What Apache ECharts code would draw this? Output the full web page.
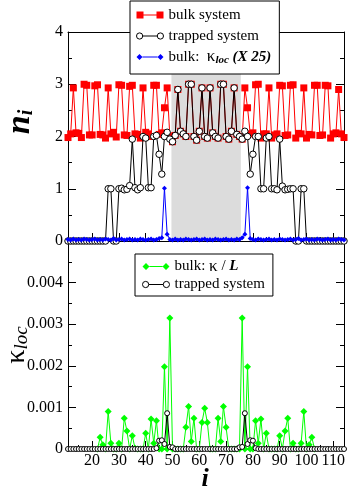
<!DOCTYPE html>
<html><head><meta charset="utf-8">
<script src="https://cdn.jsdelivr.net/npm/echarts@6/dist/echarts.min.js"></script>
<style>html,body{margin:0;padding:0;background:#fff}#c{width:349px;height:491px}</style>
</head><body><div id="c"></div>
<script>
// ---- data ----
const site = [11,12,13,14,15,16,17,18,19,20,21,22,23,24,25,26,27,28,29,30,31,32,33,34,35,36,37,38,39,40,41,42,43,44,45,46,47,48,49,50,51,52,53,54,55,56,57,58,59,60,61,62,63,64,65,66,67,68,69,70,71,72,73,74,75,76,77,78,79,80,81,82,83,84,85,86,87,88,89,90,91,92,93,94,95,96,97,98,99,100,101,102,103,104,105,106,107,108,109,110,111,112,113,114];
const bulkN = [1.98,2.05,2.93,2.07,2.06,1.98,3.0,2.98,2.03,2.03,
 2.97,2.99,2.04,2.03,1.97,2.93,2.05,2.08,1.99,2.99,
 2.98,2.03,2.02,2.96,2.98,2.05,2.04,1.97,2.93,2.08,
 2.05,2.0,2.98,2.98,2.04,2.07,2.55,2.93,2.01,1.9,
 2.02,2.9,2.1,2.05,2.0,3.0,3.0,2.0,1.93,2.1,
 2.93,2.0,1.97,2.93,2.07,2.0,1.97,3.0,3.0,2.0,
 1.95,2.1,2.93,2.04,2.0,1.95,2.93,2.55,2.05,2.07,
 2.99,3.0,1.97,2.05,2.05,2.93,1.97,2.03,2.05,2.98,
 2.97,2.02,2.03,2.98,2.99,1.97,2.06,2.05,2.93,1.97,
 2.04,2.03,2.98,2.98,2.02,2.03,2.98,2.97,1.97,2.05,
 2.07,2.9,2.05,1.98];
const trappedN = [0,0,0,0,0,0,0,0,0,0,
 0,0,0,0,0,1.0,1.0,0,0,1.0,
 1.01,0.98,0.99,1.06,1.95,1.02,0.98,1.02,2.0,1.97,
 1.02,1.02,2.0,2.02,1.66,1.28,2.0,2.08,1.95,1.9,
 2.02,2.9,2.1,2.05,2.0,3.0,3.0,2.0,1.93,2.1,
 2.93,2.0,1.97,2.93,2.07,2.0,1.97,3.0,3.0,2.0,
 1.95,2.1,2.93,2.04,2.0,1.95,2.1,2.0,1.28,1.66,
 2.0,2.0,1.0,1.0,1.97,2.0,1.0,1.0,0.98,1.95,
 1.05,0.98,0.99,1.0,1.0,0,0,1.0,1.0,0,
 0,0,0,0,0,0,0,0,0,0,
 0,0,0,0];
const bulkKloc25 = [0.03,0.02,0.04,0.02,0.03,0.02,0.04,0.03,0.02,0.03,
 0.04,0.02,0.03,0.02,0.04,0.03,0.02,0.05,0.02,0.03,
 0.04,0.02,0.03,0.04,0.02,0.03,0.02,0.04,0.03,0.02,
 0.03,0.04,0.02,0.03,0.05,0.06,1.01,0.13,0.03,0.02,
 0.04,0.02,0.03,0.02,0.04,0.03,0.02,0.03,0.04,0.02,
 0.03,0.04,0.02,0.03,0.02,0.04,0.03,0.02,0.03,0.04,
 0.02,0.03,0.02,0.04,0.03,0.06,0.13,1.02,0.05,0.03,
 0.02,0.04,0.03,0.02,0.03,0.04,0.02,0.03,0.02,0.04,
 0.03,0.02,0.03,0.04,0.02,0.03,0.05,0.02,0.03,0.04,
 0.02,0.03,0.02,0.04,0.03,0.02,0.03,0.04,0.02,0.03,
 0.02,0.04,0.03,0.02];
const bulkKL = [null,null,null,null,null,null,null,null,null,null,
 null,0,0.00028,0.0001,0,0.0009,0.00014,0,0,0.00014,
 0,0.00074,0.00043,0,0.00032,0.00002,0,0,0,0.00038,
 0,0.00072,0.00014,0.00068,0,0,0.00198,0,0.00315,0,
 0,0,0,0,0.00052,0.00102,0.00018,0.00074,0,0,
 0.00064,0.00098,0.00064,0,0,0,0.00074,0.00018,0.00102,0.00052,
 0,0,0,0,0,0.00315,0,0.00198,0,0,
 0.00068,0.00014,0.00072,0,0.00038,0,0,0,0,0.00032,
 0,0.00043,0.00074,0,0.00014,0,0,0.00014,0.0009,0,
 0.0001,0.00028,0,null,null,null,null,null,null,null,
 null,null,null,null];
const trappedK = [0,0,0,0,0,0,0,0,0,0,
 0,0,0,0,0,0,0,0,0,0,
 0,0,0,0,0,0,0,0,0,0,
 0,0,0,0.00002,0.0002,0.00021,0.00012,0.00086,0.00005,0.00004,
 0,0,0,0,0,0,0,0,0,0,
 0,0,0,0,0,0,0,0,0,0,
 0,0,0,0,0.00004,0.00005,0.00086,0.00012,0.00021,0.0002,
 0.00002,0,0,0,0,0,0,0,0,0,
 0,0,0,0,0,0,0,0,0,0,
 0,0,0,0,0,0,0,0,0,0,
 0,0,0,0];
const shadeRange = [49.6, 75.5];
const xMajor = [20,30,40,50,60,70,80,90,100,110];
const xMinor = [15,25,35,45,55,65,75,85,95,105];

// ---- chart ----
const FONT = '"Liberation Serif","Times New Roman",serif';
const XMIN = 11, XMAX = 114;
const pair = ys => site.map((x, k) => [x, ys[k]]);

function xAx(grid, pos, ticks, len, labels) {
  return {
    type: 'value', gridIndex: grid, position: pos, min: XMIN, max: XMAX,
    axisLine: {show: true, onZero: false, lineStyle: {color: '#000', width: 1}},
    axisTick: {show: true, inside: true, length: len, customValues: ticks, lineStyle: {color: '#000', width: 1}},
    axisLabel: labels ? {show: true, customValues: xMajor, margin: 4, fontFamily: FONT, fontSize: 16, color: '#000'} : {show: false},
    splitLine: {show: false}
  };
}
function yAx(grid, pos, min, max, iv, labels, fmt) {
  return {
    type: 'value', gridIndex: grid, position: pos, min: min, max: max, interval: iv,
    axisLine: {show: true, onZero: false, lineStyle: {color: '#000', width: 1}},
    axisTick: {show: true, inside: true, length: 8, lineStyle: {color: '#000', width: 1}},
    minorTick: {show: true, splitNumber: 2, length: 4, lineStyle: {color: '#000', width: 1}},
    axisLabel: labels ? {show: true, margin: 5, fontFamily: FONT, fontSize: 16, color: '#000', formatter: fmt} : {show: false},
    splitLine: {show: false}, minorSplitLine: {show: false}
  };
}

const iconSq = 'path://M0,0h7v7h-7zM20,0h7v7h-7zM7,3h13v1h-13z';
const iconCi = 'path://M0.5,3.5a3,3 0 1,0 6,0a3,3 0 1,0 -6,0zM20.5,3.5a3,3 0 1,0 6,0a3,3 0 1,0 -6,0zM6.5,3.5h14';
const iconDiS = 'path://M0,3.5l3,-3l3,3l-3,3zM21,3.5l3,-3l3,3l-3,3zM6,3h15v1h-15z';
const iconDiL = 'path://M0,3.5l3.5,-3.5l3.5,3.5l-3.5,3.5zM20,3.5l3.5,-3.5l3.5,3.5l-3.5,3.5zM7,3h13v1h-13z';

const richLeg = {
  k: {fontFamily: FONT, fontSize: 17, color: '#000'},
  s: {fontFamily: FONT, fontSize: 11, fontStyle: 'italic', fontWeight: 'bold', color: '#000', verticalAlign: 'bottom', lineHeight: 10},
  b: {fontFamily: FONT, fontSize: 15, fontStyle: 'italic', fontWeight: 'bold', color: '#000'}
};
const legText = {
  'bulk system': 'bulk system',
  'trapped system': 'trapped system',
  'bulk kloc': 'bulk:  {k|κ}{s|loc} {b|(X 25)}',
  'bulk k/L': 'bulk: {k|κ} / {b|L}',
  'trapped system (k)': 'trapped system'
};

const option = {
  animation: false,
  backgroundColor: '#fff',
  grid: [
    {left: 68, right: 5, top: 32, height: 209},
    {left: 68, right: 5, top: 241, height: 208}
  ],
  xAxis: [
    xAx(0, 'bottom', xMajor, 8, false),
    xAx(0, 'bottom', xMinor, 4, false),
    xAx(0, 'top', [], 0, false),
    xAx(1, 'bottom', xMajor, 8, true),
    xAx(1, 'bottom', xMinor, 4, false)
  ],
  yAxis: [
    yAx(0, 'left', 0, 4, 1, true, v => String(v)),
    yAx(0, 'right', 0, 4, 1, false),
    yAx(1, 'left', 0, 0.005, 0.001, true, v => v > 0.0045 ? '' : (v === 0 ? '0' : v.toFixed(3))),
    yAx(1, 'right', 0, 0.005, 0.001, false)
  ],
  legend: [
    {
      left: 130, top: 1, orient: 'vertical', padding: [5, 8, 8, 6], itemGap: 3,
      itemWidth: 27, itemHeight: 7, backgroundColor: '#fff', borderColor: '#000', borderWidth: 1,
      selectedMode: false, z: 10,
      textStyle: {fontFamily: FONT, fontSize: 15, color: '#000', lineHeight: 18, rich: richLeg},
      formatter: n => legText[n],
      data: [
        {name: 'bulk system', icon: iconSq, itemStyle: {color: '#ff0000', borderWidth: 0}},
        {name: 'trapped system', icon: iconCi, itemStyle: {color: '#ffffff', borderColor: '#000', borderWidth: 1}},
        {name: 'bulk kloc', icon: iconDiS, itemStyle: {color: '#0000ff', borderWidth: 0}}
      ]
    },
    {
      left: 135, top: 254, orient: 'vertical', padding: [4, 8, 3, 7], itemGap: 1,
      itemWidth: 27, itemHeight: 7, backgroundColor: '#fff', borderColor: '#000', borderWidth: 1,
      selectedMode: false, z: 10,
      textStyle: {fontFamily: FONT, fontSize: 15, color: '#000', lineHeight: 17, rich: richLeg},
      formatter: n => legText[n],
      data: [
        {name: 'bulk k/L', icon: iconDiL, itemStyle: {color: '#00ff00', borderWidth: 0}},
        {name: 'trapped system (k)', icon: iconCi, itemStyle: {color: '#ffffff', borderColor: '#000', borderWidth: 1}}
      ]
    }
  ],
  series: [
    {
      name: 'bulk system', type: 'line', xAxisIndex: 0, yAxisIndex: 0, data: pair(bulkN),
      symbol: 'rect', symbolSize: 7, color: '#ff0000',
      lineStyle: {color: '#ff0000', width: 1}, itemStyle: {color: '#ff0000'},
      markArea: {silent: true, itemStyle: {color: '#dcdcdc'}, data: [[{xAxis: shadeRange[0]}, {xAxis: shadeRange[1]}]]},
      z: 2
    },
    {
      name: 'trapped system', type: 'line', xAxisIndex: 0, yAxisIndex: 0, data: pair(trappedN),
      symbol: 'circle', symbolSize: 6.5, showAllSymbol: true,
      lineStyle: {color: '#000', width: 1}, itemStyle: {color: '#fff', borderColor: '#000', borderWidth: 1},
      z: 3
    },
    {
      name: 'bulk kloc', type: 'line', xAxisIndex: 0, yAxisIndex: 0, data: pair(bulkKloc25),
      symbol: 'diamond', symbolSize: 5, color: '#0000ff',
      lineStyle: {color: '#0000ff', width: 1}, itemStyle: {color: '#0000ff'},
      z: 4
    },
    {
      name: 'bulk k/L', type: 'line', xAxisIndex: 3, yAxisIndex: 2, data: pair(bulkKL),
      symbol: 'diamond', symbolSize: 7, color: '#00ff00',
      lineStyle: {color: '#00ff00', width: 1}, itemStyle: {color: '#00ff00'},
      z: 3
    },
    {
      name: 'trapped system (k)', type: 'line', xAxisIndex: 3, yAxisIndex: 2, data: pair(trappedK),
      symbol: 'circle', symbolSize: 5, showAllSymbol: true,
      lineStyle: {color: '#000', width: 1}, itemStyle: {color: '#fff', borderColor: '#000', borderWidth: 1},
      z: 4
    }
  ],
  graphic: [
    {type: 'text', x: 20, y: 122, rotation: Math.PI / 2, z: 20,
     style: {text: '{n|n}{i|i}', align: 'center', verticalAlign: 'middle',
       rich: {n: {fontFamily: FONT, fontSize: 34, fontStyle: 'italic', fontWeight: 'bold', fill: '#000'},
              i: {fontFamily: FONT, fontSize: 20, fontStyle: 'italic', fontWeight: 'bold', fill: '#000', verticalAlign: 'bottom', lineHeight: 14}}}},
    {type: 'text', x: 17, y: 345, rotation: Math.PI / 2, z: 20,
     style: {text: '{k|κ}{l|loc}', align: 'center', verticalAlign: 'middle',
       rich: {k: {fontFamily: FONT, fontSize: 28, fill: '#000'},
              l: {fontFamily: FONT, fontSize: 19, fontStyle: 'italic', fill: '#000', verticalAlign: 'bottom', lineHeight: 14}}}},
    {type: 'text', x: 205, y: 479, z: 20,
     style: {text: 'i', align: 'center', verticalAlign: 'middle', fontFamily: FONT, fontSize: 26, fontStyle: 'italic', fontWeight: 'bold', fill: '#000'}}
  ]
};
const chart = echarts.init(document.getElementById('c'), null, {renderer: 'canvas'});
chart.setOption(option);
</script>
</body></html>
